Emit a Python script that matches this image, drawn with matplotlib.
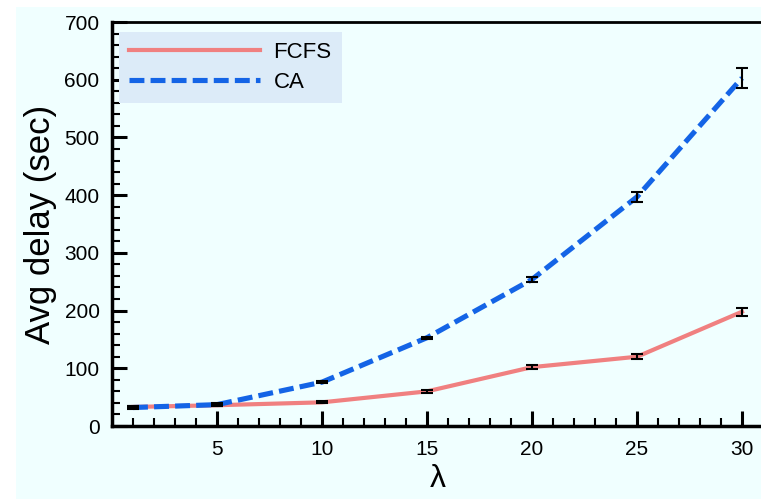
import matplotlib.pyplot as plt
from matplotlib.patches import Rectangle

# data
lam = [1, 5, 10, 15, 20, 25, 30]
fcfs = [33, 36, 41, 60, 102, 120, 198]
fcfs_err = [2, 2, 2, 2, 3, 4, 7]
ca = [32, 37, 76, 153, 254, 397, 603]
ca_err = [2, 2, 2, 2, 5, 9, 17]

plt.rcParams['font.family'] = ['Liberation Sans', 'DejaVu Sans']

fig = plt.figure(figsize=(7.61, 4.99), dpi=100)
fig.patch.set_facecolor('white')
# light cyan panel behind the whole chart
fig.patches.append(Rectangle((16 / 761, 0), 1, 1 - 7 / 499, transform=fig.transFigure,
                             facecolor='#F0FFFF', edgecolor='none', zorder=-5))

ax = fig.add_axes([112 / 761, 73 / 499, 651 / 761, 404 / 499])
ax.set_facecolor('#F0FFFF')

ax.plot(lam, fcfs, color='#F08080', lw=3, label='FCFS', zorder=2)
ax.errorbar(lam, fcfs, yerr=fcfs_err, fmt='none', ecolor='black', elinewidth=1.5,
            capsize=4, capthick=1.5, zorder=3)
ax.plot(lam, ca, color='#1464E6', lw=3.7, ls=(0, (2.9, 1.2)), label='CA', zorder=2)
ax.errorbar(lam, ca, yerr=ca_err, fmt='none', ecolor='black', elinewidth=1.5,
            capsize=4, capthick=1.5, zorder=3)

ax.set_xlim(0, 31)
ax.set_ylim(0, 700)
ax.set_xticks([5, 10, 15, 20, 25, 30])
ax.set_xticks(range(1, 31), minor=True)
ax.set_yticks(range(0, 701, 100))
ax.set_yticks(range(0, 701, 20), minor=True)

ax.tick_params(which='major', direction='in', length=11, width=2.2, labelsize=15)
ax.tick_params(which='minor', direction='in', length=6, width=1.5)
ax.tick_params(axis='x', which='major', pad=10)
ax.tick_params(axis='y', which='major', pad=9)
ax.tick_params(axis='x', which='both', top=False)
ax.tick_params(axis='y', which='both', right=False)

ax.spines['right'].set_visible(False)
ax.spines['left'].set_linewidth(2.5)
ax.spines['bottom'].set_linewidth(2.5)
ax.spines['top'].set_linewidth(2)

ax.set_xlabel('λ', fontsize=23, labelpad=4)
ax.set_ylabel('Avg delay (sec)', fontsize=25, labelpad=5)

leg = ax.legend(loc='upper left', bbox_to_anchor=(0.011, 0.975), fontsize=16,
                frameon=True, fancybox=False, handlelength=5.9, handletextpad=0.6,
                borderpad=0.45, labelspacing=0.4, borderaxespad=0)
leg.get_frame().set_facecolor('#DCEBF8')
leg.get_frame().set_edgecolor('none')
leg.get_frame().set_alpha(1)

fig.savefig('out.png', dpi=100, facecolor=fig.get_facecolor())
